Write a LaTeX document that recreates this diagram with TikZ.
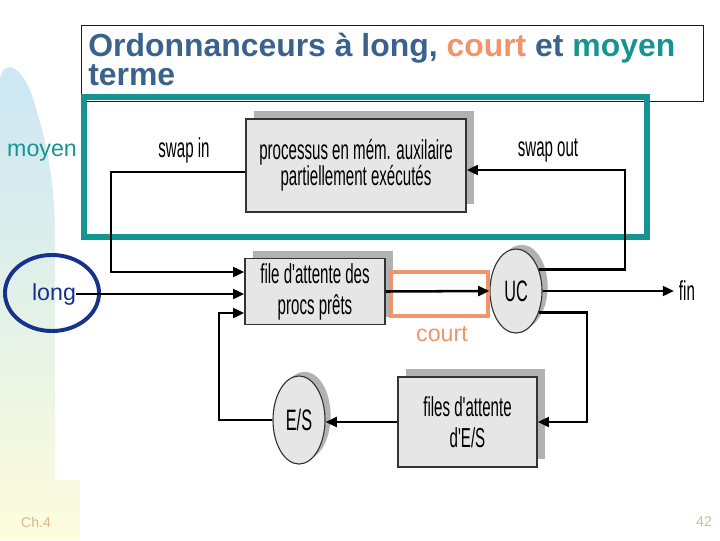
\documentclass[tikz,border=0pt]{standalone}
\usepackage{fontspec}
\setmainfont{Liberation Sans}
\newfontfamily\narrowfont[FakeStretch=0.55]{Liberation Sans}
\usetikzlibrary{arrows.meta,shapes.geometric,shadows,calc}
\definecolor{titleblue}{RGB}{58,98,140}
\definecolor{courtorange}{RGB}{240,148,105}
\definecolor{moyenteal}{RGB}{22,148,146}
\definecolor{longnavy}{RGB}{22,50,138}
\definecolor{boxgray}{RGB}{230,230,230}
\definecolor{footer}{RGB}{214,184,140}
\definecolor{panelblue}{RGB}{204,230,246}
\definecolor{panelgreen}{RGB}{226,241,232}
\definecolor{panelyellow}{RGB}{254,252,220}
\begin{document}
\begin{tikzpicture}[x=0.025cm,y=-0.025cm,
  box/.style={draw=black!80,line width=1pt,fill=boxgray,align=center,
    font=\narrowfont\fontsize{19.5}{22}\selectfont,
    drop shadow={shadow xshift=5.5pt,shadow yshift=5.5pt,fill=gray!60,opacity=1}},
  disc/.style={ellipse,draw=black!80,line width=0.8pt,fill=boxgray,inner sep=0pt,
    font=\narrowfont\fontsize{21}{21}\selectfont,
    drop shadow={shadow xshift=4pt,shadow yshift=3pt,fill=gray!60,opacity=1}},
  flow/.style={line width=1.8pt,-{Triangle[length=8pt,width=7pt]}},
  lbl/.style={font=\narrowfont\fontsize{19.5}{19.5}\selectfont},
  tag/.style={text=#1,font=\fontsize{16.5}{16.5}\selectfont,inner sep=0pt}]
\useasboundingbox (0,0) rectangle (720,540);
% left panel
\shade[top color=panelblue,bottom color=panelyellow,middle color=panelgreen]
  (0,540) -- (0,80) .. controls (2,60) and (22,60) .. (35,105)
  .. controls (47,145) and (55,180) .. (55,240) -- (55,480) -- (80,480) -- (80,540) -- cycle;
% title
\draw[draw=black!70!teal,line width=0.6pt,fill=white] (81,25) rectangle (703,101);
\node[anchor=north west,inner sep=0pt,align=left,text=titleblue,
  font=\bfseries\fontsize{22.7}{18}\selectfont] (title) at (88,33)
  {Ordonnanceurs à long, \textcolor{courtorange}{court} et \textcolor{moyenteal}{moyen}\\terme};
% moyen
\draw[moyenteal,line width=3.6pt] (84,97) rectangle (647,237);
\node[tag=moyenteal] (moyentxt) at (42,153) {moyen};
% queues and servers
\node[box,minimum width=5.5cm,minimum height=2.325cm,
  font=\narrowfont\fontsize{19.5}{18.5}\selectfont] (mem) at (356,165.5)
  {processus en mém. auxilaire\\partiellement exécutés};
\node[box,minimum width=3.5cm,minimum height=1.475cm] (fileq) at (315,291.5)
  {file d'attente des\\procs prêts};
\node[box,minimum width=3.475cm,minimum height=2.25cm] (ioq) at (467.5,422)
  {files d'attente\\d'E/S};
\node[disc,minimum width=1.3cm,minimum height=2.1cm] (uc) at (516,291) {UC};
\node[disc,minimum width=1.3cm,minimum height=2.2cm] (es) at (299,420) {E/S};
\node[lbl] (swapin) at (184,150) {swap in};
\node[lbl] (swapout) at (548,150) {swap out};
\node[lbl,anchor=west] (fin) at (674,291) {fin};
% long
\node[ellipse,draw=longnavy,line width=2.8pt,minimum width=2.35cm,minimum height=1.9cm] (longring) at (52,293) {};
\node[tag=longnavy] (longtxt) at (54,294) {long};
% court
\draw[courtorange,line width=3.5pt] (391,272) rectangle (488,316);
\node[tag=courtorange] (courttxt) at (442,334) {court};
% connectors
\coordinate (swin) at (111,272);
\coordinate (swout) at (625,170);
\coordinate (ioturn) at (587,422);
\coordinate (esup) at (219,313);
\draw[flow] ($(mem.west)+(0,6.5)$) -| (swin) -- (fileq.west |- swin);
\draw[flow] (longtxt.east) -- (fileq.west |- longtxt.east);
\draw[flow] (es.west) -| (esup) -- (fileq.west |- esup);
\draw[flow] (fileq.east) -- (uc.west);
\draw[flow] (uc.east) -- (fin.west);
\draw[flow] (uc.43) -| (swout) -- (mem.east |- swout);
\draw[flow] (uc.-43) -| (ioturn) -- (ioq.east |- ioturn);
\draw[flow] (ioq.west) -- (es.east |- ioq.west);
% footer
\node[text=footer,font=\fontsize{10}{10}\selectfont] (chap) at (36,522) {Ch.4};
\node[text=footer,font=\fontsize{10}{10}\selectfont] (page) at (704,522) {42};
\end{tikzpicture}
\end{document}
